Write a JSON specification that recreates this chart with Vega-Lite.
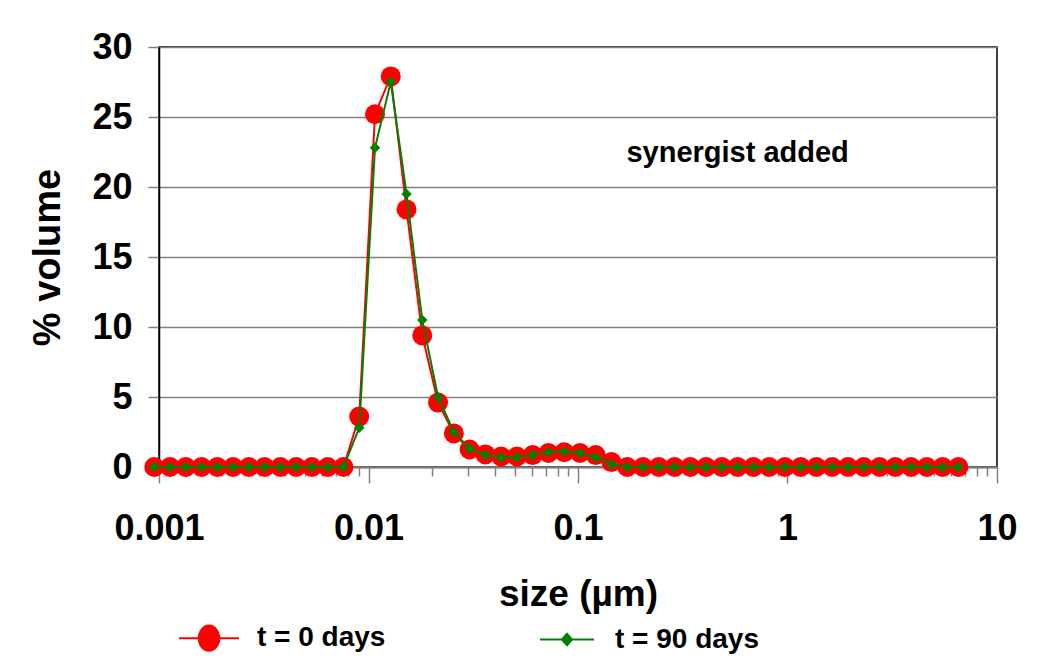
{
  "$schema": "https://vega.github.io/schema/vega-lite/v6.json",
  "width": 838,
  "height": 420,
  "autosize": {"type": "none"},
  "padding": {"left": 159, "top": 47, "right": 47, "bottom": 201},
  "background": "white",
  "config": {
    "font": "Liberation Sans",
    "view": {"stroke": "#000000", "strokeWidth": 1.5}
  },
  "datasets": {
    "psd": [
      {"size": 0.000949, "series": "t = 0 days", "pct": 0},
      {"size": 0.001129, "series": "t = 0 days", "pct": 0},
      {"size": 0.001343, "series": "t = 0 days", "pct": 0},
      {"size": 0.001597, "series": "t = 0 days", "pct": 0},
      {"size": 0.001899, "series": "t = 0 days", "pct": 0},
      {"size": 0.002258, "series": "t = 0 days", "pct": 0},
      {"size": 0.002685, "series": "t = 0 days", "pct": 0},
      {"size": 0.003193, "series": "t = 0 days", "pct": 0},
      {"size": 0.003798, "series": "t = 0 days", "pct": 0},
      {"size": 0.004516, "series": "t = 0 days", "pct": 0},
      {"size": 0.005371, "series": "t = 0 days", "pct": 0},
      {"size": 0.006387, "series": "t = 0 days", "pct": 0},
      {"size": 0.007595, "series": "t = 0 days", "pct": 0},
      {"size": 0.009032, "series": "t = 0 days", "pct": 3.6},
      {"size": 0.01074, "series": "t = 0 days", "pct": 25.2},
      {"size": 0.01277, "series": "t = 0 days", "pct": 27.9},
      {"size": 0.01519, "series": "t = 0 days", "pct": 18.4},
      {"size": 0.01806, "series": "t = 0 days", "pct": 9.4},
      {"size": 0.02148, "series": "t = 0 days", "pct": 4.6},
      {"size": 0.02555, "series": "t = 0 days", "pct": 2.4},
      {"size": 0.03038, "series": "t = 0 days", "pct": 1.25},
      {"size": 0.03613, "series": "t = 0 days", "pct": 0.9},
      {"size": 0.04296, "series": "t = 0 days", "pct": 0.75},
      {"size": 0.05109, "series": "t = 0 days", "pct": 0.75},
      {"size": 0.06076, "series": "t = 0 days", "pct": 0.85},
      {"size": 0.07226, "series": "t = 0 days", "pct": 1.0},
      {"size": 0.08593, "series": "t = 0 days", "pct": 1.05},
      {"size": 0.1022, "series": "t = 0 days", "pct": 1.0},
      {"size": 0.1215, "series": "t = 0 days", "pct": 0.85},
      {"size": 0.1445, "series": "t = 0 days", "pct": 0.35},
      {"size": 0.1719, "series": "t = 0 days", "pct": 0},
      {"size": 0.2044, "series": "t = 0 days", "pct": 0},
      {"size": 0.243, "series": "t = 0 days", "pct": 0},
      {"size": 0.289, "series": "t = 0 days", "pct": 0},
      {"size": 0.3437, "series": "t = 0 days", "pct": 0},
      {"size": 0.4088, "series": "t = 0 days", "pct": 0},
      {"size": 0.4861, "series": "t = 0 days", "pct": 0},
      {"size": 0.5781, "series": "t = 0 days", "pct": 0},
      {"size": 0.6875, "series": "t = 0 days", "pct": 0},
      {"size": 0.8175, "series": "t = 0 days", "pct": 0},
      {"size": 0.9722, "series": "t = 0 days", "pct": 0},
      {"size": 1.156, "series": "t = 0 days", "pct": 0},
      {"size": 1.375, "series": "t = 0 days", "pct": 0},
      {"size": 1.635, "series": "t = 0 days", "pct": 0},
      {"size": 1.944, "series": "t = 0 days", "pct": 0},
      {"size": 2.312, "series": "t = 0 days", "pct": 0},
      {"size": 2.75, "series": "t = 0 days", "pct": 0},
      {"size": 3.27, "series": "t = 0 days", "pct": 0},
      {"size": 3.889, "series": "t = 0 days", "pct": 0},
      {"size": 4.625, "series": "t = 0 days", "pct": 0},
      {"size": 5.5, "series": "t = 0 days", "pct": 0},
      {"size": 6.54, "series": "t = 0 days", "pct": 0},
      {"size": 0.000949, "series": "t = 90 days", "pct": 0},
      {"size": 0.001129, "series": "t = 90 days", "pct": 0},
      {"size": 0.001343, "series": "t = 90 days", "pct": 0},
      {"size": 0.001597, "series": "t = 90 days", "pct": 0},
      {"size": 0.001899, "series": "t = 90 days", "pct": 0},
      {"size": 0.002258, "series": "t = 90 days", "pct": 0},
      {"size": 0.002685, "series": "t = 90 days", "pct": 0},
      {"size": 0.003193, "series": "t = 90 days", "pct": 0},
      {"size": 0.003798, "series": "t = 90 days", "pct": 0},
      {"size": 0.004516, "series": "t = 90 days", "pct": 0},
      {"size": 0.005371, "series": "t = 90 days", "pct": 0},
      {"size": 0.006387, "series": "t = 90 days", "pct": 0},
      {"size": 0.007595, "series": "t = 90 days", "pct": 0},
      {"size": 0.009032, "series": "t = 90 days", "pct": 2.8},
      {"size": 0.01074, "series": "t = 90 days", "pct": 22.8},
      {"size": 0.01277, "series": "t = 90 days", "pct": 27.5},
      {"size": 0.01519, "series": "t = 90 days", "pct": 19.5},
      {"size": 0.01806, "series": "t = 90 days", "pct": 10.5},
      {"size": 0.02148, "series": "t = 90 days", "pct": 5.0},
      {"size": 0.02555, "series": "t = 90 days", "pct": 2.5},
      {"size": 0.03038, "series": "t = 90 days", "pct": 1.3},
      {"size": 0.03613, "series": "t = 90 days", "pct": 0.85},
      {"size": 0.04296, "series": "t = 90 days", "pct": 0.7},
      {"size": 0.05109, "series": "t = 90 days", "pct": 0.7},
      {"size": 0.06076, "series": "t = 90 days", "pct": 0.85},
      {"size": 0.07226, "series": "t = 90 days", "pct": 1.05},
      {"size": 0.08593, "series": "t = 90 days", "pct": 1.1},
      {"size": 0.1022, "series": "t = 90 days", "pct": 1.0},
      {"size": 0.1215, "series": "t = 90 days", "pct": 0.7},
      {"size": 0.1445, "series": "t = 90 days", "pct": 0.2},
      {"size": 0.1719, "series": "t = 90 days", "pct": 0},
      {"size": 0.2044, "series": "t = 90 days", "pct": 0},
      {"size": 0.243, "series": "t = 90 days", "pct": 0},
      {"size": 0.289, "series": "t = 90 days", "pct": 0},
      {"size": 0.3437, "series": "t = 90 days", "pct": 0},
      {"size": 0.4088, "series": "t = 90 days", "pct": 0},
      {"size": 0.4861, "series": "t = 90 days", "pct": 0},
      {"size": 0.5781, "series": "t = 90 days", "pct": 0},
      {"size": 0.6875, "series": "t = 90 days", "pct": 0},
      {"size": 0.8175, "series": "t = 90 days", "pct": 0},
      {"size": 0.9722, "series": "t = 90 days", "pct": 0},
      {"size": 1.156, "series": "t = 90 days", "pct": 0},
      {"size": 1.375, "series": "t = 90 days", "pct": 0},
      {"size": 1.635, "series": "t = 90 days", "pct": 0},
      {"size": 1.944, "series": "t = 90 days", "pct": 0},
      {"size": 2.312, "series": "t = 90 days", "pct": 0},
      {"size": 2.75, "series": "t = 90 days", "pct": 0},
      {"size": 3.27, "series": "t = 90 days", "pct": 0},
      {"size": 3.889, "series": "t = 90 days", "pct": 0},
      {"size": 4.625, "series": "t = 90 days", "pct": 0},
      {"size": 5.5, "series": "t = 90 days", "pct": 0},
      {"size": 6.54, "series": "t = 90 days", "pct": 0}
    ]
  },
  "data": {"name": "psd"},
  "encoding": {
    "x": {
      "field": "size",
      "type": "quantitative",
      "scale": {"type": "log", "domain": [0.001, 10], "nice": false},
      "axis": {
        "title": "size (µm)",
        "values": [0.001, 0.002, 0.003, 0.004, 0.005, 0.006, 0.007, 0.008, 0.009,
                   0.01, 0.02, 0.03, 0.04, 0.05, 0.06, 0.07, 0.08, 0.09,
                   0.1, 0.2, 0.3, 0.4, 0.5, 0.6, 0.7, 0.8, 0.9,
                   1, 2, 3, 4, 5, 6, 7, 8, 9, 10],
        "labelExpr": "indexof([0.001, 0.01, 0.1, 1, 10], datum.value) >= 0 ? datum.label : ''",
        "format": "~g",
        "grid": false,
        "domainColor": "#808080",
        "domainWidth": 2,
        "tickColor": "#808080",
        "tickWidth": 1.5,
        "tickSize": {"condition": {"test": "indexof([0.001, 0.01, 0.1, 1, 10], datum.value) >= 0", "value": 16}, "value": 9},
        "labelFont": "Liberation Sans",
        "labelFontWeight": "bold",
        "labelFontSize": 36,
        "labelColor": "#000000",
        "labelPadding": 28,
        "labelFlush": false,
        "labelOverlap": false,
        "labelBound": false,
        "titleFont": "Liberation Sans",
        "titleFontWeight": "bold",
        "titleFontSize": 37,
        "titleColor": "#000000",
        "titlePadding": 30
      }
    },
    "y": {
      "field": "pct",
      "type": "quantitative",
      "scale": {"domain": [0, 30], "nice": false},
      "axis": {
        "title": "% volume",
        "values": [0, 5, 10, 15, 20, 25, 30],
        "grid": true,
        "gridColor": "#808080",
        "gridWidth": 1.5,
        "domainColor": "#000000",
        "domainWidth": 1.5,
        "tickColor": "#808080",
        "tickWidth": 1.5,
        "tickSize": 11,
        "labelFont": "Liberation Sans",
        "labelFontWeight": "bold",
        "labelFontSize": 36,
        "labelColor": "#000000",
        "labelPadding": 16,
        "labelFlush": false,
        "titleFont": "Liberation Sans",
        "titleFontWeight": "bold",
        "titleFontSize": 38,
        "titleColor": "#000000",
        "titlePadding": 24
      }
    },
    "color": {
      "field": "series",
      "type": "nominal",
      "scale": {"domain": ["t = 0 days", "t = 90 days"], "range": ["#ff0000", "#008000"]},
      "legend": {
        "orient": "none",
        "legendX": 19,
        "legendY": 560,
        "direction": "horizontal",
        "title": null,
        "padding": 0,
        "symbolSize": 3600,
        "symbolStrokeWidth": 2,
        "labelFont": "Liberation Sans",
        "labelFontWeight": "bold",
        "labelFontSize": 28,
        "labelColor": "#000000",
        "labelOffset": 17,
        "columnPadding": 150,
        "encode": {
          "symbols": {
            "update": {
              "shape": {"signal": "datum.value === 't = 0 days' ? 'M-1,0H1M0,-0.42A0.34,0.42 0 1,1 0,0.42A0.34,0.42 0 1,1 0,-0.42Z' : 'M-0.9,0H0.9M0,-0.19L0.17,0L0,0.19L-0.17,0Z'"},
              "fill": {"scale": "color", "field": "value"},
              "stroke": {"scale": "color", "field": "value"},
              "strokeWidth": {"value": 2},
              "opacity": {"value": 1}
            }
          }
        }
      }
    }
  },
  "layer": [
    {
      "transform": [{"filter": "datum.series === 't = 0 days'"}],
      "mark": {"type": "line", "strokeWidth": 2}
    },
    {
      "transform": [{"filter": "datum.series === 't = 0 days'"}],
      "mark": {"type": "point", "shape": "circle", "filled": true, "size": 400, "opacity": 1}
    },
    {
      "transform": [{"filter": "datum.series === 't = 90 days'"}],
      "mark": {"type": "line", "strokeWidth": 2}
    },
    {
      "transform": [{"filter": "datum.series === 't = 90 days'"}],
      "mark": {"type": "point", "shape": "diamond", "filled": true, "size": 110, "opacity": 1}
    },
    {
      "data": {"values": [{"size": 0.578, "pct": 22.4, "note": "synergist added"}]},
      "mark": {"type": "text", "font": "Liberation Sans", "fontWeight": "bold", "fontSize": 29, "align": "center", "baseline": "middle"},
      "encoding": {"text": {"field": "note"}, "color": {"value": "#000000"}}
    }
  ]
}
